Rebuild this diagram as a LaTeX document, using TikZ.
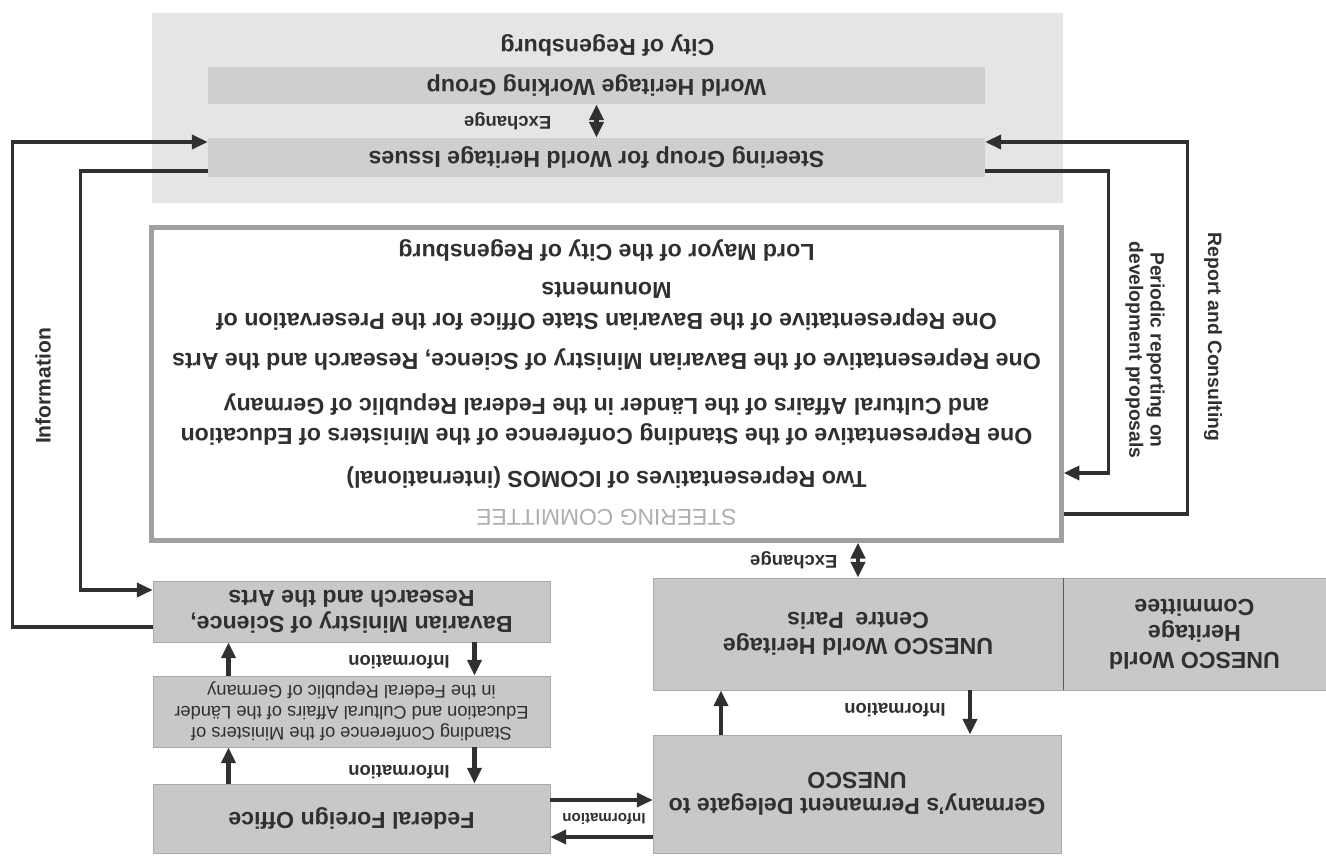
\documentclass[tikz,border=0pt]{standalone}
\usepackage{fontspec}
\setmainfont{Liberation Sans}
\usetikzlibrary{arrows.meta}
\usetikzlibrary{calc}
\definecolor{boxgrey}{RGB}{200,200,200}
\definecolor{bargrey}{RGB}{207,207,207}
\definecolor{citygrey}{RGB}{229,229,229}
\definecolor{framegrey}{RGB}{160,160,160}
\definecolor{inkgrey}{RGB}{48,48,48}

\begin{document}
\begin{tikzpicture}[x=0.02cm,y=-0.02cm,rotate=180,transform shape,
  >={Triangle[length=9pt,width=8pt]},
  greybox/.style={fill=boxgrey,draw=boxgrey!85!black,line width=0.4pt,inner sep=0pt,
    align=center,text=inkgrey,font=\bfseries\fontsize{13.2}{15}\selectfont},
  bar/.style={fill=bargrey,inner sep=0pt,text=inkgrey,font=\bfseries\fontsize{13.2}{15}\selectfont},
  member/.style={text=inkgrey,font=\bfseries\fontsize{13.2}{15}\selectfont},
  conn/.style={draw=inkgrey,line width=2pt},
  flow/.style={draw=inkgrey,line width=2.8pt},
  lbl/.style={text=inkgrey,font=\bfseries\fontsize{10.5}{12}\selectfont}]

  \fill[white] (0,0) rectangle (1326,856);
  \useasboundingbox (0,0) rectangle (1326,856);

  % city of Regensburg
  \node[fill=citygrey,minimum width=18.22cm,minimum height=3.8cm] (city) at (718.5,748) {};
  \node[member] (cityname) at (718.5,811) {City of Regensburg};
  \node[bar,minimum width=15.54cm,minimum height=0.74cm] (wgroup) at (729.5,770.5) {World Heritage Working Group};
  \node[bar,minimum width=15.54cm,minimum height=0.78cm] (sgroup) at (729.5,698.5) {Steering Group for World Heritage Issues};
  \draw[flow,<->] (sgroup.south) -- (wgroup.north) node[lbl,midway,right=21pt] {Exchange};

  % steering committee
  \node[draw=framegrey,line width=2.6pt,fill=white,minimum width=18.2cm,minimum height=6.26cm] (committee) at (719.5,472) {};
  \node[text=framegrey!85,font=\fontsize{13}{15}\selectfont] (sctitle) at (719.5,339) {STEERING COMMITTEE};
  \foreach \v/\t [count=\i] in {379/Two Representatives of ICOMOS (international),
    422/One Representative of the Standing Conference of the Ministers of Education,
    451/and Cultural Affairs of the Länder in the Federal Republic of Germany,
    {496/One Representative of the Bavarian Ministry of Science, Research and the Arts},
    536/One Representative of the Bavarian State Office for the Preservation of,
    566/Monuments,
    606/Lord Mayor of the City of Regensburg}
    \node[member] (member\i) at (719.5,\v) {\t};

  % UNESCO side
  \node[greybox,minimum width=8.2cm,minimum height=2.24cm] (centre) at (468,222) {UNESCO World Heritage\\Centre\enspace Paris};
  \node[greybox,minimum width=5.26cm,minimum height=2.24cm] (whcommittee) at (131.5,222) {UNESCO World\\Heritage\\Committee};
  \draw[inkgrey!80,line width=0.6pt] (centre.north west) -- (centre.south west);
  \node[greybox,minimum width=8.16cm,minimum height=2.36cm] (delegate) at (469,62) {Germany’s Permanent Delegate to\\UNESCO};

  % German side
  \node[greybox,minimum width=7.94cm,minimum height=1.38cm] (federal) at (974.5,37.5) {Federal Foreign Office};
  \node[greybox,minimum width=7.94cm,minimum height=1.42cm,font=\fontsize{10.4}{12}\selectfont] (conference) at (974.5,144.5)
    {Standing Conference of the Ministers of\\Education and Cultural Affairs of the Länder\\in the Federal Republic of Germany};
  \node[greybox,minimum width=7.94cm,minimum height=1.22cm] (ministry) at (974.5,244.5) {Bavarian Ministry of Science,\\Research and the Arts};

  \foreach \a/\b in {ministry/conference,conference/federal}{
    \draw[flow,->] ($(\a.north)+(-123,0)$) -- ($(\b.south)+(-123,0)$);
    \draw[flow,->] ($(\b.south)+(123,0)$) -- ($(\a.north)+(123,0)$);
  }
  \node[lbl] (info1) at (927,194) {Information};
  \node[lbl] (info2) at (927,84) {Information};

  \draw[flow,->] ($(centre.north)+(-112,0)$) -- ($(delegate.south)+(-113,0)$);
  \draw[flow,->] ($(delegate.south)+(136,0)$) -- ($(centre.north)+(137,0)$);
  \node[lbl] (info3) at (431,146) {Information};

  \draw[flow,<->] (centre.south) -- (centre.south |- committee.north)
    node[lbl,midway,right=7pt] {Exchange};

  \coordinate (fd1) at ($(federal.west)+(0,18.5)$);
  \coordinate (fd2) at ($(federal.west)+(0,-18.5)$);
  \draw[conn,->] (fd1) -- (fd1 -| delegate.east);
  \draw[conn,<-] (fd2) -- (fd2 -| delegate.east);
  \node[lbl,font=\bfseries\fontsize{8.6}{10}\selectfont] (info4) at (722,37.5) {Information};

  % loops round the committee
  \draw[conn,->] ($(ministry.east)+(0,-15.5)$) -- ++(140,0) |- ($(sgroup.east)+(0,15.5)$);
  \draw[conn,->] ($(sgroup.east)+(0,-13.5)$) -- ++(127,0) |- ($(ministry.east)+(0,21.5)$);
  \node[lbl,rotate=-90,font=\bfseries\fontsize{12}{13}\selectfont] (info5) at (1283,470) {Information};

  \draw[conn,->] ($(committee.west)+(0,-130)$) -- ++(-124,0) |- ($(sgroup.west)+(0,15.5)$);
  \draw[conn,->] ($(sgroup.west)+(0,-13.5)$) -- ++(-123,0) |- ($(committee.west)+(0,-89)$);
  \node[lbl,rotate=90,font=\bfseries\fontsize{11}{12}\selectfont] (report) at (113,519) {Report and Consulting};
  \node[lbl,rotate=90,align=center,font=\bfseries\fontsize{11}{12}\selectfont] (periodic) at (181,506)
    {Periodic reporting on\\development proposals};

\end{tikzpicture}
\end{document}
